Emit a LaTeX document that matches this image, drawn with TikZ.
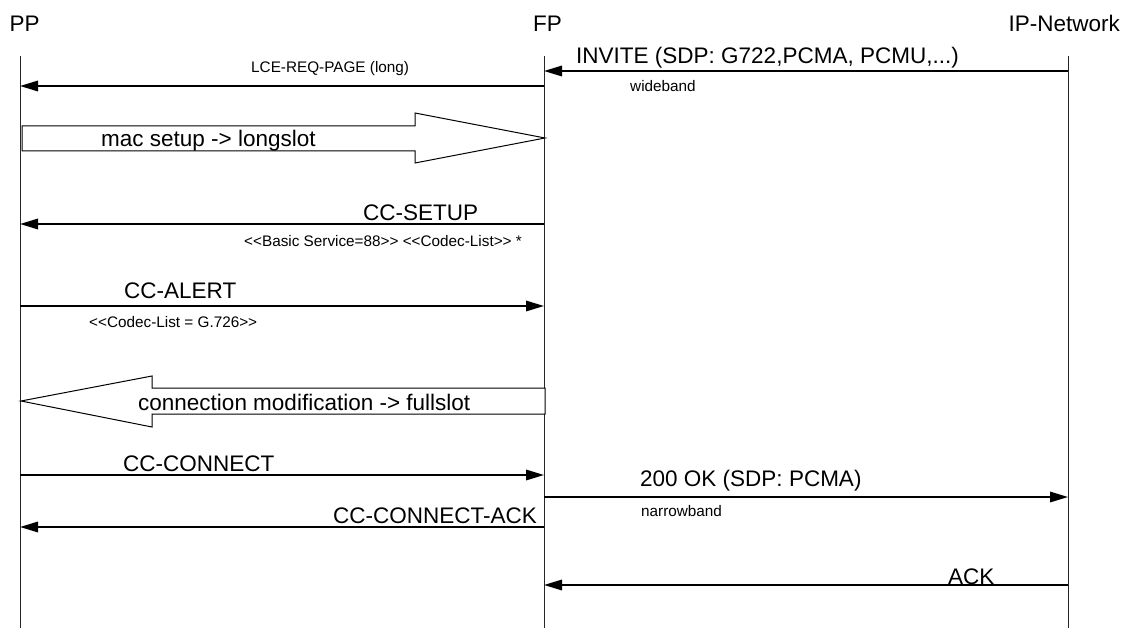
\documentclass[tikz,border=0pt]{standalone}
\usepackage{fontspec}
\setmainfont{Liberation Sans}[Ligatures=TeXOff]
\usetikzlibrary{arrows.meta}
\begin{document}
\begin{tikzpicture}[x=1pt,y=-1pt,
  lifeline/.style={line width=1pt,draw=black!85},
  msg/.style={line width=1.7pt,-{Triangle[length=18pt,width=10.5pt]}},
  block/.style={line width=1pt,draw=black,fill=white},
  big/.style={inner sep=0pt,font=\fontsize{22.5}{27}\selectfont},
  small/.style={inner sep=0pt,font=\fontsize{15.3}{18}\selectfont}]
\useasboundingbox (0,0) rectangle (1126,628);
% entity labels
\node[big,anchor=base west] (pp) at (9.5,32) {PP};
\node[big,anchor=base west] (fp) at (533,32) {FP};
\node[big,anchor=base east] (ip) at (1120,32) {IP-Network};
% lifelines
\coordinate (ppT) at (20,56); \coordinate (ppB) at (20,628);
\coordinate (fpT) at (544,56); \coordinate (fpB) at (544,628);
\coordinate (ipT) at (1068,56); \coordinate (ipB) at (1068,628);
\draw[lifeline] (ppT) -- (ppB);
\draw[lifeline] (fpT) -- (fpB);
\draw[lifeline] (ipT) -- (ipB);
% INVITE
\coordinate (inv1) at (1068,71); \coordinate (inv2) at (544,71);
\draw[msg] (inv1) -- (inv2);
\node[big,anchor=base west] (invt) at (576,64) {INVITE (SDP: G722,PCMA, PCMU,...)};
\node[small,anchor=base west] (wb) at (630,92) {wideband};
% LCE-REQ-PAGE
\coordinate (lce1) at (544,86); \coordinate (lce2) at (20,86);
\draw[msg] (lce1) -- (lce2);
\node[small,anchor=base west] (lcet) at (251,73) {LCE-REQ-PAGE (long)};
% mac setup block arrow
\draw[block] (22,126) -- (415,126) -- (415,113) -- (545,138) -- (415,163) -- (415,151) -- (22,151) -- cycle;
\node[big,anchor=base west] (mac) at (101,147) {mac setup -> longslot};
% CC-SETUP
\coordinate (set1) at (544,224); \coordinate (set2) at (20,224);
\draw[msg] (set1) -- (set2);
\node[big,anchor=base west] (sett) at (363,221) {CC-SETUP};
\node[small,anchor=base west] (bs) at (244,247) {<{}<Basic Service=88>{}> <{}<Codec-List>{}> *};
% CC-ALERT
\coordinate (al1) at (20,306); \coordinate (al2) at (544,306);
\draw[msg] (al1) -- (al2);
\node[big,anchor=base west] (alt) at (124,298) {CC-ALERT};
\node[small,anchor=base west] (cl) at (89,327) {<{}<Codec-List = G.726>{}>};
% connection modification block arrow
\draw[block] (545,388) -- (152,388) -- (152,376) -- (21,401) -- (152,427) -- (152,414) -- (545,414) -- cycle;
\node[big,anchor=base west] (cm) at (138,410) {connection modification -> fullslot};
% CC-CONNECT
\coordinate (cn1) at (20,475); \coordinate (cn2) at (544,475);
\draw[msg] (cn1) -- (cn2);
\node[big,anchor=base west] (cnt) at (123,471) {CC-CONNECT};
% 200 OK
\coordinate (ok1) at (544,497); \coordinate (ok2) at (1068,497);
\draw[msg] (ok1) -- (ok2);
\node[big,anchor=base west] (okt) at (640,486) {200 OK (SDP: PCMA)};
\node[small,anchor=base west] (nb) at (641,516) {narrowband};
% CC-CONNECT-ACK
\coordinate (ca1) at (544,527); \coordinate (ca2) at (20,527);
\draw[msg] (ca1) -- (ca2);
\node[big,anchor=base east] (cat) at (537,523) {CC-CONNECT-ACK};
% ACK
\coordinate (ack1) at (1068,585); \coordinate (ack2) at (544,585);
\draw[msg] (ack1) -- (ack2);
\node[big,anchor=base west] (ackt) at (948,584) {ACK};
\end{tikzpicture}
\end{document}
